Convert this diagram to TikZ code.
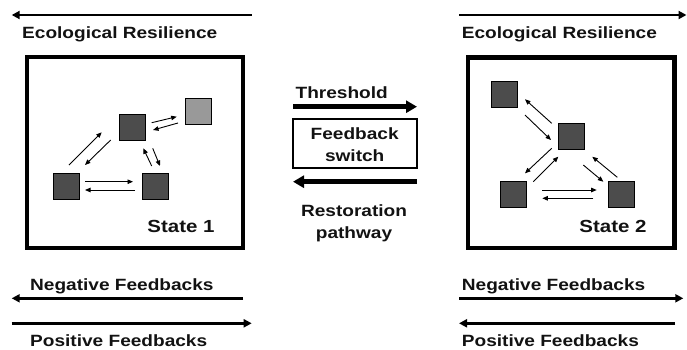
\documentclass[tikz,border=0pt]{standalone}
\usepackage{fontspec}
\setmainfont{Liberation Sans}[FakeStretch=1.17]
\usetikzlibrary{arrows.meta}
\begin{document}
\begin{tikzpicture}[x=1pt,y=-1pt,
  lbl/.style={font=\bfseries\fontsize{16.3}{19}\selectfont, text=black!93, inner sep=0pt},
  longarr/.style={line width=2.7pt, -{Triangle[length=8pt,width=8pt]}},
  bigarr/.style={line width=4.8pt, -{Triangle[length=11pt,width=12pt]}},
  sarr/.style={line width=0.9pt, -{Triangle[length=5.5pt,width=4.5pt]}},
  statebox/.style={draw, line width=4.3pt, inner sep=0pt},
  sq/.style={draw=black, line width=0.8pt, fill=black!70, minimum size=26pt, inner sep=0pt},
  sqlight/.style={sq, fill=black!40},
  switchbox/.style={draw, line width=1.8pt, minimum width=124pt, minimum height=49pt, inner sep=0pt, align=center}]
\useasboundingbox (0,0) rectangle (687,349);

% top arrows and labels
\coordinate (tl1) at (251.7,15); \coordinate (tl2) at (11.7,15);
\draw[longarr] (tl1) -- (tl2);
\node[lbl, anchor=base west] (erl) at (22,38.5) {Ecological Resilience};
\coordinate (tr1) at (459.3,15); \coordinate (tr2) at (686.5,15);
\draw[longarr] (tr1) -- (tr2);
\node[lbl, anchor=base west] (err) at (461.7,38.5) {Ecological Resilience};

% state boxes
\node[statebox, minimum width=216.3pt, minimum height=191pt] (s1) at (134.85,152.5) {};
\node[statebox, minimum width=206.2pt, minimum height=190.5pt] (s2) at (571.4,152.75) {};

% state 1 squares
\node[sq] (m1) at (132,127) {};
\node[sqlight] (lt) at (198.5,111) {};
\node[sq] (bl) at (66,186) {};
\node[sq] (br) at (155.5,186) {};
\node[lbl, font=\bfseries\fontsize{17.5}{20}\selectfont, anchor=base] (st1) at (181,232) {State 1};

\draw[sarr] ([shift={(3,-21)}]bl.center) -- ([shift={(-30.3,5.3)}]m1.center);
\draw[sarr] ([shift={(-21.3,13)}]m1.center) -- ([shift={(19,-21)}]bl.center);
\draw[sarr] ([shift={(19,-4.3)}]bl.center) -- ([shift={(-22.5,-4.3)}]br.center);
\draw[sarr] ([shift={(-20.5,4)}]br.center) -- ([shift={(19,4)}]bl.center);
\draw[sarr] ([shift={(19.7,-4.3)}]m1.center) -- ([shift={(-21.8,5.7)}]lt.center);
\draw[sarr] ([shift={(-20.5,12)}]lt.center) -- ([shift={(21,3)}]m1.center);
\draw[sarr] ([shift={(-3.8,-20)}]br.center) -- ([shift={(11.3,21.3)}]m1.center);
\draw[sarr] ([shift={(20.7,21.3)}]m1.center) -- ([shift={(4.5,-20)}]br.center);

% state 2 squares
\node[sq] (a) at (504.7,94.5) {};
\node[sq] (b) at (571,136) {};
\node[sq] (c) at (513,194.5) {};
\node[sq] (d) at (621,194.5) {};
\node[lbl, font=\bfseries\fontsize{17.5}{20}\selectfont, anchor=base] (st2) at (613,232) {State 2};

\draw[sarr] ([shift={(-19.3,-12.7)}]b.center) -- ([shift={(20.3,4.8)}]a.center);
\draw[sarr] ([shift={(20.3,20.5)}]a.center) -- ([shift={(-20,4)}]b.center);
\draw[sarr] ([shift={(-19.3,12.3)}]b.center) -- ([shift={(12,-21.2)}]c.center);
\draw[sarr] ([shift={(20.3,-12.8)}]c.center) -- ([shift={(-12.7,20.7)}]b.center);
\draw[sarr] ([shift={(12.3,29)}]b.center) -- ([shift={(-17.7,-12.8)}]d.center);
\draw[sarr] ([shift={(-3.7,-17.2)}]d.center) -- ([shift={(21.3,20.7)}]b.center);
\draw[sarr] ([shift={(29.3,-4.5)}]c.center) -- ([shift={(-24.3,-4.5)}]d.center);
\draw[sarr] ([shift={(-27.7,3.8)}]d.center) -- ([shift={(29.3,3.8)}]c.center);

% middle
\node[lbl, anchor=base] (thr) at (341.7,98) {Threshold};
\coordinate (th1) at (293,106.7); \coordinate (th2) at (417,106.7);
\draw[bigarr] (th1) -- (th2);
\node[switchbox] (sw) at (354.7,143.8) {};
\node[lbl, anchor=base] (fb1) at (354.7,139) {Feedback};
\node[lbl, anchor=base] (fb2) at (354.7,161) {switch};
\coordinate (rs1) at (417,181.7); \coordinate (rs2) at (293,181.7);
\draw[bigarr] (rs1) -- (rs2);
\node[lbl, anchor=base] (rp1) at (354,216) {Restoration};
\node[lbl, anchor=base] (rp2) at (354,238) {pathway};

% bottom left
\node[lbl, anchor=base west] (nfl) at (30,290) {Negative Feedbacks};
\coordinate (nl1) at (243,298.3); \coordinate (nl2) at (11.7,298.3);
\draw[longarr] (nl1) -- (nl2);
\coordinate (pl1) at (11.7,323.3); \coordinate (pl2) at (251.7,323.3);
\draw[longarr] (pl1) -- (pl2);
\node[lbl, anchor=base west] (pfl) at (30,346) {Positive Feedbacks};

% bottom right
\node[lbl, anchor=base west] (nfr) at (461.7,290) {Negative Feedbacks};
\coordinate (nr1) at (459,298.3); \coordinate (nr2) at (683.3,298.3);
\draw[longarr] (nr1) -- (nr2);
\coordinate (pr1) at (675,323.3); \coordinate (pr2) at (459,323.3);
\draw[longarr] (pr1) -- (pr2);
\node[lbl, anchor=base west] (pfr) at (461.7,346) {Positive Feedbacks};
\end{tikzpicture}
\end{document}
